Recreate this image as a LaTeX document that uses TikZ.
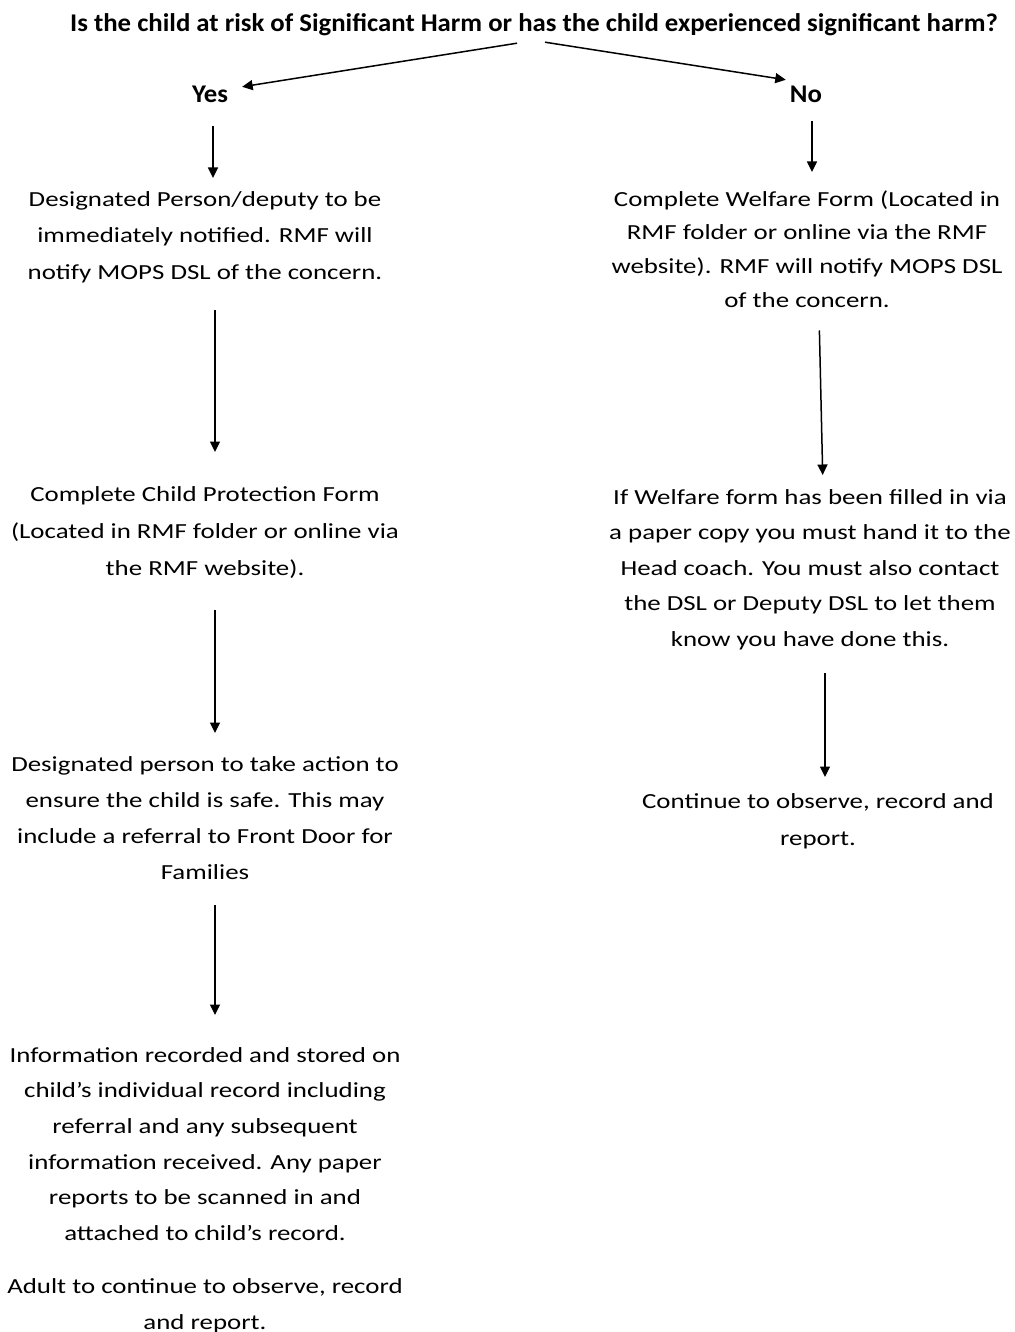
\documentclass[tikz,border=0pt]{standalone}
\usepackage{fontspec}
\setmainfont{Carlito}[FakeStretch=1.25]
\newfontfamily\titlefont{Carlito}[FakeStretch=1.05]
\usetikzlibrary{arrows.meta}
\newcommand\firstln{\rule{0pt}{16pt}}
\newcommand\lastln{\rule[-6pt]{0pt}{6pt}}
\begin{document}
\begin{tikzpicture}[x=1pt,y=1pt,
  txt/.style={font=\fontsize{21.5}{36.5}\selectfont, align=center, inner sep=0pt, anchor=north},
  txtr/.style={font=\fontsize{21.5}{35}\selectfont, align=center, inner sep=0pt, anchor=north},
  lbl/.style={font=\titlefont\bfseries\fontsize{25.5}{28}\selectfont, inner sep=0pt, anchor=base, text height=15pt, text depth=5pt},
  arr/.style={-{Triangle[length=10.5pt,width=10pt]}, line width=1.5pt}]
\useasboundingbox (0,0) rectangle (1014,-1332);
\fill[white] (0,0) rectangle (1014,-1332);
\node[lbl] (T) at (534,-32) {Is the child at risk of Significant Harm or has the child experienced significant harm?};
\node[lbl] (Y) at (210,-103) {Yes};
\node[lbl] (N) at (806,-103) {No};
\node[txt] (L1) at (205,-190) {\firstln Designated Person/deputy to be\\ immediately notified. RMF will\\ notify MOPS DSL of the concern.\lastln};
\node[txt,font=\fontsize{21.5}{37}\selectfont] (L2) at (205,-485) {\firstln Complete Child Protection Form\\ (Located in RMF folder or online via\\ the RMF website).\lastln};
\node[txt,font=\fontsize{21.5}{36}\selectfont] (L3) at (205,-755) {\firstln Designated person to take action to\\ ensure the child is safe. This may\\ include a referral to Front Door for\\ Families\lastln};
\node[txt,font=\fontsize{21.5}{35.6}\selectfont] (L4) at (205,-1046) {\firstln Information recorded and stored on\\ child’s individual record including\\ referral and any subsequent\\ information received. Any paper\\ reports to be scanned in and\\ attached to child’s record.\lastln};
\node[txt,font=\fontsize{21.5}{36}\selectfont] (L5) at (205,-1277) {\firstln Adult to continue to observe, record\\ and report.\lastln};
\node[txtr,font=\fontsize{21.5}{33.7}\selectfont] (R1) at (807,-190) {\firstln Complete Welfare Form (Located in\\ RMF folder or online via the RMF\\ website). RMF will notify MOPS DSL\\ of the concern.\lastln};
\node[txtr,font=\fontsize{21.5}{35.5}\selectfont] (R2) at (810,-488) {\firstln If Welfare form has been filled in via\\ a paper copy you must hand it to the\\ Head coach. You must also contact\\ the DSL or Deputy DSL to let them\\ know you have done this.\lastln};
\node[txtr,font=\fontsize{21.5}{37}\selectfont] (R3) at (818,-792) {\firstln Continue to observe, record and\\ report.\lastln};
\draw[arr] ([xshift=-17pt,yshift=-6pt]T.south) -- ([xshift=14pt,yshift=1pt]Y.north east);
\draw[arr] ([xshift=11pt,yshift=-5pt]T.south) -- ([xshift=-4pt,yshift=8pt]N.north west);
\draw[arr,shorten <=18pt,shorten >=12pt] ([xshift=3pt]Y.south) -- ([xshift=8pt]L1.north);
\draw[arr,shorten <=25pt,shorten >=33pt] ([xshift=10pt]L1.south) -- ([xshift=10pt]L2.north);
\draw[arr,shorten <=29pt,shorten >=22pt] ([xshift=10pt]L2.south) -- ([xshift=10pt]L3.north);
\draw[arr,shorten <=20pt,shorten >=31pt] ([xshift=10pt]L3.south) -- ([xshift=10pt]L4.north);
\draw[arr,shorten <=13pt,shorten >=18pt] ([xshift=6pt]N.south) -- ([xshift=5pt]R1.north);
\draw[arr,shorten <=17pt,shorten >=13pt] ([xshift=12pt]R1.south) -- ([xshift=13pt]R2.north);
\draw[arr,shorten <=21pt,shorten >=15pt] ([xshift=15pt]R2.south) -- ([xshift=7pt]R3.north);
\end{tikzpicture}
\end{document}
